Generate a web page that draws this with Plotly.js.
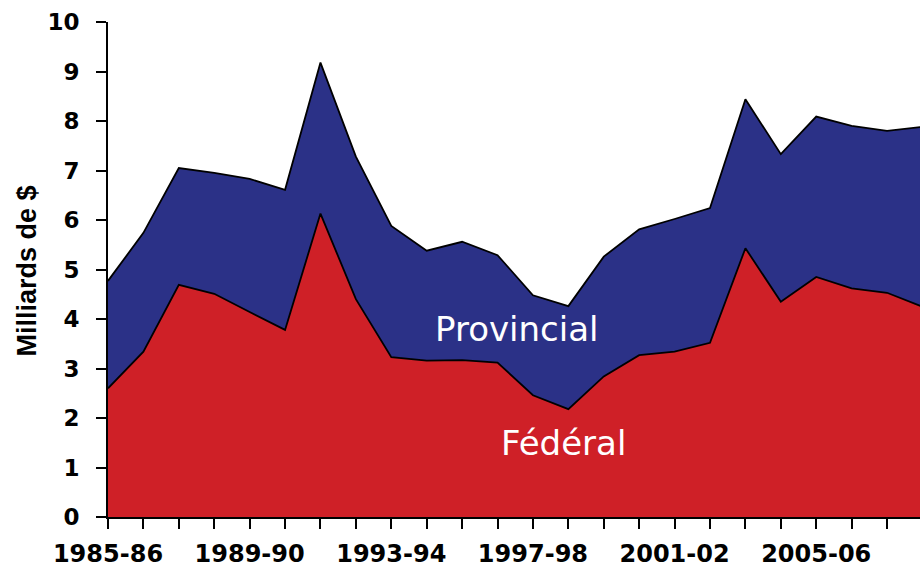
<!DOCTYPE html>
<html>
<head>
<meta charset="utf-8">
<script src="https://cdn.plot.ly/plotly-3.0.1.min.js"></script>
<style>html,body{margin:0;padding:0;background:#fff;}#chart{width:920px;height:569px;}</style>
</head>
<body>
<div id="chart"></div>
<script>
var years = ["1985-86","1986-87","1987-88","1988-89","1989-90","1990-91","1991-92","1992-93",
  "1993-94","1994-95","1995-96","1996-97","1997-98","1998-99","1999-00","2000-01",
  "2001-02","2002-03","2003-04","2004-05","2005-06","2006-07","2007-08","2008-09"];
var federal = [2.60,3.34,4.69,4.51,4.14,3.78,6.13,4.40,3.23,3.16,3.17,3.12,2.46,2.18,2.84,3.27,
  3.34,3.52,5.43,4.35,4.85,4.62,4.53,4.25];
var total = [4.77,5.74,7.05,6.95,6.83,6.61,9.18,7.28,5.88,5.38,5.56,5.29,4.48,4.26,5.26,5.81,
  6.02,6.24,8.44,7.33,8.09,7.90,7.80,7.88];
var provincial = total.map(function(t,i){ return +(t - federal[i]).toFixed(2); });
var labeledYears = ["1985-86","1989-90","1993-94","1997-98","2001-02","2005-06"];
var yTicks = [0,1,2,3,4,5,6,7,8,9,10];

var tickText = years.map(function(y){ return labeledYears.indexOf(y) >= 0 ? y : ""; });

var traces = [
  {x: years, y: federal, type: "scatter", mode: "lines", stackgroup: "one",
   line: {color: "#000000", width: 1.8}, fillcolor: "#CF2027", name: "Fédéral", hoverinfo: "x+y"},
  {x: years, y: provincial, type: "scatter", mode: "lines", stackgroup: "one",
   line: {color: "#000000", width: 1.8}, fillcolor: "#2B3187", name: "Provincial", hoverinfo: "x+y"}
];

var layout = {
  width: 920, height: 569,
  margin: {l: 108, r: 0, t: 22, b: 52},
  paper_bgcolor: "#ffffff", plot_bgcolor: "#ffffff",
  showlegend: false,
  xaxis: {
    type: "category", range: [0, 22.93],
    tickmode: "array", tickvals: years, ticktext: tickText,
    ticks: "outside", ticklen: 10, tickwidth: 2, tickcolor: "#000",
    showline: true, linecolor: "#000", linewidth: 2,
    showgrid: false, zeroline: false,
    ticklabelstandoff: 4,
    tickfont: {family: "DejaVu Sans", size: 24, color: "#000", weight: "bold"}
  },
  yaxis: {
    range: [0, 10], tickmode: "array", tickvals: yTicks,
    ticks: "outside", ticklen: 10, tickwidth: 2, tickcolor: "#000",
    showline: true, linecolor: "#000", linewidth: 2,
    showgrid: false, zeroline: false,
    ticklabelstandoff: 12,
    tickfont: {family: "DejaVu Sans", size: 23, color: "#000", weight: "bold"}
  },
  annotations: [
    {text: "Milliards de $", xref: "paper", yref: "paper", x: -(108-27)/812, y: 0.496,
     xanchor: "center", yanchor: "middle", textangle: -90, showarrow: false,
     font: {family: "Liberation Sans", size: 27, color: "#000", weight: "bold"}},
    {text: "Provincial", xref: "paper", yref: "paper", x: (516-108)/812, y: (517-329)/495,
     xanchor: "center", yanchor: "middle", showarrow: false,
     font: {family: "DejaVu Sans", size: 34, color: "#ffffff"}},
    {text: "Fédéral", xref: "paper", yref: "paper", x: (563-108)/812, y: (517-443)/495,
     xanchor: "center", yanchor: "middle", showarrow: false,
     font: {family: "DejaVu Sans", size: 34, color: "#ffffff"}}
  ]
};

Plotly.newPlot("chart", traces, layout, {displayModeBar: false, staticPlot: true});
</script>
</body>
</html>
